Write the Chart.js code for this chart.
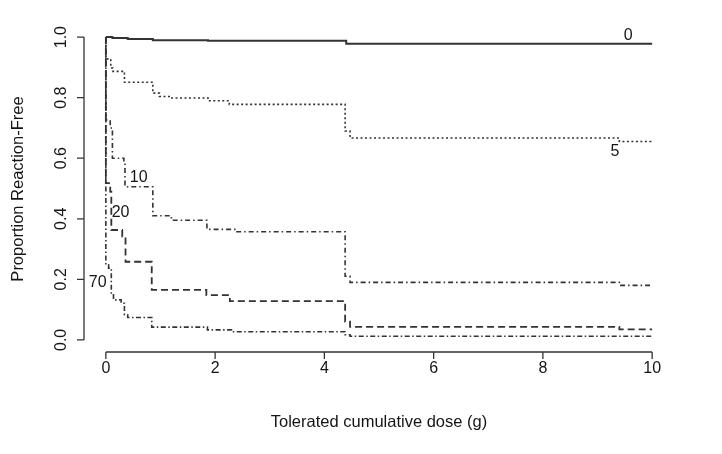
<!DOCTYPE html>
<html>
<head>
<meta charset="utf-8">
<script src="https://cdn.jsdelivr.net/npm/chart.js@4/dist/chart.umd.min.js"></script>
<style>
  body { margin: 0; background: #fff; }
  #chart { display: block; }
</style>
</head>
<body>
<canvas id="chart" width="722" height="454"></canvas>
<script>
// step curves (dose in g, proportion reaction-free)
var dose0 = [0, 0.12, 0.4, 0.86, 1.87, 4.4, 10];
var free0 = [1.0, 0.997, 0.994, 0.99, 0.988, 0.978, 0.978];

var dose5 = [0, 0, 0.09, 0.13, 0.34, 0.86, 0.98, 1.19, 1.87, 2.26, 4.38, 4.47, 9.4, 10];
var free5 = [1.0, 0.928, 0.898, 0.887, 0.851, 0.815, 0.804, 0.799, 0.79, 0.778, 0.69, 0.667, 0.655, 0.655];

var dose10 = [0, 0, 0.08, 0.12, 0.33, 0.35, 0.86, 1.2, 1.85, 2.4, 4.38, 4.47, 9.4, 10];
var free10 = [1.0, 0.726, 0.70, 0.60, 0.585, 0.506, 0.41, 0.395, 0.365, 0.357, 0.21, 0.19, 0.18, 0.18];

var dose20 = [0, 0, 0.08, 0.1, 0.3, 0.36, 0.84, 1.84, 2.27, 4.38, 4.47, 9.4, 10];
var free20 = [1.0, 0.518, 0.49, 0.363, 0.341, 0.258, 0.165, 0.148, 0.128, 0.06, 0.043, 0.035, 0.035];

var dose70 = [0, 0, 0.05, 0.1, 0.14, 0.28, 0.34, 0.4, 0.84, 1.86, 2.3, 4.38, 4.47, 10];
var free70 = [1.0, 0.248, 0.237, 0.149, 0.132, 0.121, 0.083, 0.074, 0.042, 0.033, 0.027, 0.017, 0.012, 0.01];

var xTicks = [0, 2, 4, 6, 8, 10];
var yTicks = [0, 0.2, 0.4, 0.6, 0.8, 1.0];
var xTitle = 'Tolerated cumulative dose (g)';
var yTitle = 'Proportion Reaction-Free';

var curveNames = ['0', '5', '10', '20', '70'];
var labelX = [9.56, 9.32, 0.6, 0.27, -0.15];
var labelY = [1.005, 0.622, 0.535, 0.42, 0.19];

var ink = '#333333';
var textInk = '#151515';
var fontFace = '"Liberation Sans", Arial, sans-serif';

function toPoints(xs, ys) {
    var pts = [];
    for (var i = 0; i < xs.length; i++) pts.push({ x: xs[i], y: ys[i] });
    return pts;
}

function curve(name, xs, ys, dash, width) {
    return {
        label: name,
        data: toPoints(xs, ys),
        borderColor: ink,
        borderWidth: width,
        borderDash: dash,
        pointRadius: 0,
        fill: false,
        stepped: true
    };
}

// R style axes: detached lines only spanning the tick range
var rAxes = {
    id: 'rAxes',
    afterDraw: function (chart) {
        var ctx = chart.ctx;
        var xs = chart.scales.x, ys = chart.scales.y;
        var area = chart.chartArea;
        ctx.save();
        ctx.strokeStyle = ink;
        ctx.fillStyle = textInk;
        ctx.lineWidth = 1.3;

        // x axis
        var ax = area.bottom;
        ctx.beginPath();
        ctx.moveTo(xs.getPixelForValue(xTicks[0]), ax);
        ctx.lineTo(xs.getPixelForValue(xTicks[xTicks.length - 1]), ax);
        xTicks.forEach(function (t) {
            var px = xs.getPixelForValue(t);
            ctx.moveTo(px, ax);
            ctx.lineTo(px, ax + 7);
        });
        ctx.stroke();
        ctx.font = '16px ' + fontFace;
        ctx.textAlign = 'center';
        ctx.textBaseline = 'middle';
        xTicks.forEach(function (t) {
            ctx.fillText(String(t), xs.getPixelForValue(t), ax + 17);
        });

        // y axis
        var ay = area.left;
        ctx.beginPath();
        ctx.moveTo(ay, ys.getPixelForValue(yTicks[0]));
        ctx.lineTo(ay, ys.getPixelForValue(yTicks[yTicks.length - 1]));
        yTicks.forEach(function (t) {
            var py = ys.getPixelForValue(t);
            ctx.moveTo(ay, py);
            ctx.lineTo(ay - 7, py);
        });
        ctx.stroke();
        yTicks.forEach(function (t) {
            ctx.save();
            ctx.translate(ay - 22, ys.getPixelForValue(t));
            ctx.rotate(-Math.PI / 2);
            ctx.fillText(t.toFixed(1), 0, 0);
            ctx.restore();
        });

        // titles
        ctx.font = '16.5px ' + fontFace;
        ctx.fillText(xTitle, (xs.getPixelForValue(0) + xs.getPixelForValue(10)) / 2, 422);
        ctx.save();
        ctx.translate(18, 189);
        ctx.rotate(-Math.PI / 2);
        ctx.fillText(yTitle, 0, 0);
        ctx.restore();

        // curve labels
        ctx.font = '16px ' + fontFace;
        for (var i = 0; i < curveNames.length; i++) {
            ctx.fillText(curveNames[i], xs.getPixelForValue(labelX[i]), ys.getPixelForValue(labelY[i]));
        }
        ctx.restore();
    }
};

var chart = new Chart(document.getElementById('chart'), {
    type: 'line',
    data: {
        datasets: [
            curve('0', dose0, free0, [], 2),
            curve('5', dose5, free5, [2, 2.5], 1.6),
            curve('10', dose10, free10, [5, 3, 1.5, 3], 1.6),
            curve('20', dose20, free20, [7, 4], 1.8),
            curve('70', dose70, free70, [5, 2.5, 1.5, 2.5], 1.6)
        ]
    },
    options: {
        responsive: false,
        animation: false,
        layout: { padding: { left: 84, right: 48, top: 25, bottom: 102 } },
        plugins: { legend: { display: false }, tooltip: { enabled: false } },
        scales: {
            x: { type: 'linear', min: -0.4, max: 10.4, display: false },
            y: { type: 'linear', min: -0.04, max: 1.04, display: false }
        }
    },
    plugins: [rAxes]
});
</script>
</body>
</html>
